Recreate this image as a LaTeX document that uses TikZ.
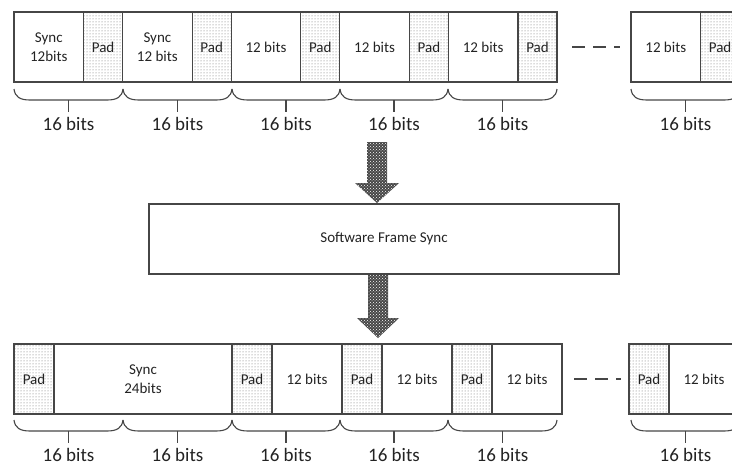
\documentclass[tikz,border=0pt]{standalone}
\usepackage{fontspec}
\setmainfont{Carlito}
\usepackage{tikz}
\usetikzlibrary{positioning,patterns}
\definecolor{fline}{RGB}{70,70,70}
\definecolor{ftext}{RGB}{35,35,35}

% brace under one 16-bit word: name, left x, right x, top y
\newcommand{\bitbrace}[4]{%
  \draw[brc] (#2,#4) .. controls (#2+1,#4+8) and (#2+6,#4+11) .. (#2+16,#4+11)
    -- (#3-16,#4+11) .. controls (#3-6,#4+11) and (#3-1,#4+8) .. (#3,#4);
  \draw[brc] ({(#2+#3)/2},#4+11) -- ({(#2+#3)/2},#4+23);
  \node[bitlbl, anchor=north] (#1) at ({(#2+#3)/2},#4+28) {16 bits};
}

\begin{document}
\begin{tikzpicture}[x=1pt, y=-1pt,
    field/.style={draw=fline, line width=1.2pt, minimum height=70pt, inner sep=0pt,
                  outer sep=0pt, text=ftext, font=\fontsize{15}{19}\selectfont, align=center},
    data/.style={field, minimum width=69.6pt},
    pad/.style={field, minimum width=39pt, pattern=dots, pattern color=black!60},
    bdata/.style={data, minimum width=70pt},
    bpad/.style={pad, minimum width=40pt},
    procbox/.style={field, minimum width=470pt},
    brc/.style={draw=fline, line width=1.1pt},
    bitlbl/.style={text=ftext, font=\fontsize{19}{22}\selectfont, inner sep=0pt},
    gapline/.style={draw=fline, line width=2pt, dash pattern=on 13pt off 8pt},
    bigarrow/.style={preaction={fill=black!72}, pattern=crosshatch dots, pattern color=white},
  ]
    \useasboundingbox (0,0) rectangle (732,466);

    % incoming stream
    \node[data, anchor=north west] (tsync1) at (14,12) {Sync\\12bits};
    \node[pad, right=0pt of tsync1] (tpad1) {Pad};
    \node[data, right=0pt of tpad1] (tsync2) {Sync\\12 bits};
    \node[pad, right=0pt of tsync2] (tpad2) {Pad};
    \node[data, right=0pt of tpad2] (tdata3) {12 bits};
    \node[pad, right=0pt of tdata3] (tpad3) {Pad};
    \node[data, right=0pt of tpad3] (tdata4) {12 bits};
    \node[pad, right=0pt of tdata4] (tpad4) {Pad};
    \node[data, right=0pt of tpad4] (tdata5) {12 bits};
    \node[pad, right=0pt of tdata5] (tpad5) {Pad};
    \node[data, anchor=north west] (tdata6) at (631,12) {12 bits};
    \node[pad, right=0pt of tdata6] (tpad6) {Pad};
    \draw[gapline] ([xshift=15pt]tpad5.east) -- ([xshift=-11pt]tdata6.west);

    \bitbrace{tw1}{14}{123}{89}
    \bitbrace{tw2}{123}{232}{89}
    \bitbrace{tw3}{232}{340}{89}
    \bitbrace{tw4}{340}{448}{89}
    \bitbrace{tw5}{448}{557}{89}
    \bitbrace{tw6}{631}{740}{89}

    \fill[bigarrow] (367,142) -- (387,142) -- (387,183) -- (399,183) -- (377,203)
      -- (355,183) -- (367,183) -- cycle;

    \node[procbox] (sfs) at (384,239) {Software Frame Sync};

    \fill[bigarrow] (368,275) -- (388,275) -- (388,318) -- (399,318) -- (378,338)
      -- (357,318) -- (368,318) -- cycle;

    % realigned stream
    \node[bpad, anchor=north west] (bpad1) at (14,344) {Pad};
    \node[field, minimum width=178pt, right=0pt of bpad1] (bsync) {Sync\\24bits};
    \node[bpad, right=0pt of bsync] (bpad2) {Pad};
    \node[bdata, right=0pt of bpad2] (bdata2) {12 bits};
    \node[bpad, right=0pt of bdata2] (bpad3) {Pad};
    \node[bdata, right=0pt of bpad3] (bdata3) {12 bits};
    \node[bpad, right=0pt of bdata3] (bpad4) {Pad};
    \node[bdata, right=0pt of bpad4] (bdata4) {12 bits};
    \node[bpad, anchor=north west] (bpad5) at (629,344) {Pad};
    \node[bdata, right=0pt of bpad5] (bdata5) {12 bits};
    \draw[gapline] ([xshift=12pt]bdata4.east) -- ([xshift=-8pt]bpad5.west);

    \bitbrace{bw1}{14}{123}{420}
    \bitbrace{bw2}{123}{232}{420}
    \bitbrace{bw3}{232}{340}{420}
    \bitbrace{bw4}{340}{448}{420}
    \bitbrace{bw5}{448}{557}{420}
    \bitbrace{bw6}{631}{740}{420}
\end{tikzpicture}
\end{document}
